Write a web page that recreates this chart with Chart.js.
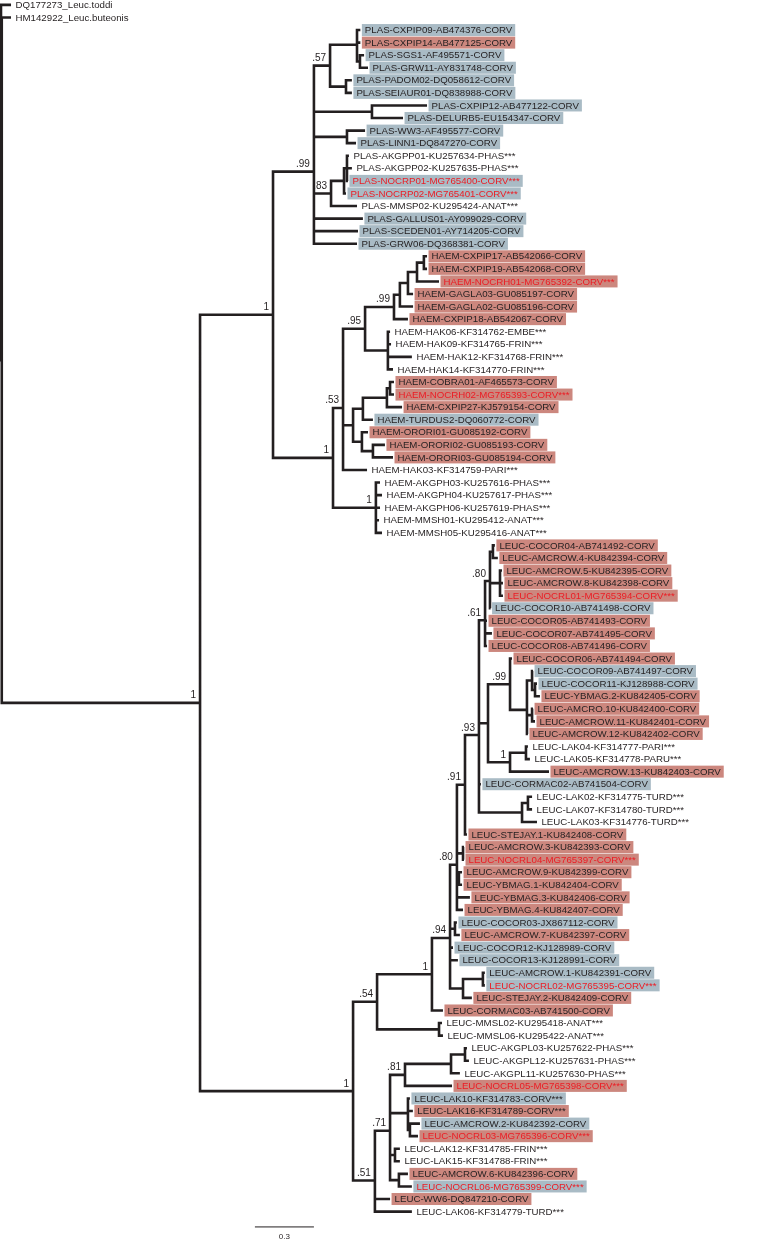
<!DOCTYPE html>
<html lang="en">
<head>
  <meta charset="UTF-8" />
  <title>Haemosporidian cytb tree</title>
  <script src="https://cdn.jsdelivr.net/npm/chart.js"></script>
  <style>
    html, body { margin: 0; padding: 0; background: #fff; overflow: hidden; }
    #wrap { position: relative; width: 778px; height: 1241px; }
  </style>
</head>
<body>
  <div id="wrap"><canvas id="chart"></canvas></div>

  <script>
    // tips, top to bottom (y = row index)
    const leafNames = [
      'DQ177273_Leuc.toddi', 'HM142922_Leuc.buteonis',
      'PLAS-CXPIP09-AB474376-CORV', 'PLAS-CXPIP14-AB477125-CORV', 'PLAS-SGS1-AF495571-CORV', 'PLAS-GRW11-AY831748-CORV',
      'PLAS-PADOM02-DQ058612-CORV', 'PLAS-SEIAUR01-DQ838988-CORV', 'PLAS-CXPIP12-AB477122-CORV', 'PLAS-DELURB5-EU154347-CORV',
      'PLAS-WW3-AF495577-CORV', 'PLAS-LINN1-DQ847270-CORV', 'PLAS-AKGPP01-KU257634-PHAS***', 'PLAS-AKGPP02-KU257635-PHAS***',
      'PLAS-NOCRP01-MG765400-CORV***', 'PLAS-NOCRP02-MG765401-CORV***', 'PLAS-MMSP02-KU295424-ANAT***',
      'PLAS-GALLUS01-AY099029-CORV', 'PLAS-SCEDEN01-AY714205-CORV', 'PLAS-GRW06-DQ368381-CORV',
      'HAEM-CXPIP17-AB542066-CORV', 'HAEM-CXPIP19-AB542068-CORV', 'HAEM-NOCRH01-MG765392-CORV***', 'HAEM-GAGLA03-GU085197-CORV',
      'HAEM-GAGLA02-GU085196-CORV', 'HAEM-CXPIP18-AB542067-CORV', 'HAEM-HAK06-KF314762-EMBE***', 'HAEM-HAK09-KF314765-FRIN***',
      'HAEM-HAK12-KF314768-FRIN***', 'HAEM-HAK14-KF314770-FRIN***', 'HAEM-COBRA01-AF465573-CORV', 'HAEM-NOCRH02-MG765393-CORV***',
      'HAEM-CXPIP27-KJ579154-CORV', 'HAEM-TURDUS2-DQ060772-CORV', 'HAEM-ORORI01-GU085192-CORV', 'HAEM-ORORI02-GU085193-CORV',
      'HAEM-ORORI03-GU085194-CORV', 'HAEM-HAK03-KF314759-PARI***', 'HAEM-AKGPH03-KU257616-PHAS***', 'HAEM-AKGPH04-KU257617-PHAS***',
      'HAEM-AKGPH06-KU257619-PHAS***', 'HAEM-MMSH01-KU295412-ANAT***', 'HAEM-MMSH05-KU295416-ANAT***',
      'LEUC-COCOR04-AB741492-CORV', 'LEUC-AMCROW.4-KU842394-CORV', 'LEUC-AMCROW.5-KU842395-CORV', 'LEUC-AMCROW.8-KU842398-CORV',
      'LEUC-NOCRL01-MG765394-CORV***', 'LEUC-COCOR10-AB741498-CORV', 'LEUC-COCOR05-AB741493-CORV', 'LEUC-COCOR07-AB741495-CORV',
      'LEUC-COCOR08-AB741496-CORV', 'LEUC-COCOR06-AB741494-CORV', 'LEUC-COCOR09-AB741497-CORV', 'LEUC-COCOR11-KJ128988-CORV',
      'LEUC-YBMAG.2-KU842405-CORV', 'LEUC-AMCRO.10-KU842400-CORV', 'LEUC-AMCROW.11-KU842401-CORV', 'LEUC-AMCROW.12-KU842402-CORV',
      'LEUC-LAK04-KF314777-PARI***', 'LEUC-LAK05-KF314778-PARU***', 'LEUC-AMCROW.13-KU842403-CORV', 'LEUC-CORMAC02-AB741504-CORV',
      'LEUC-LAK02-KF314775-TURD***', 'LEUC-LAK07-KF314780-TURD***', 'LEUC-LAK03-KF314776-TURD***', 'LEUC-STEJAY.1-KU842408-CORV',
      'LEUC-AMCROW.3-KU842393-CORV', 'LEUC-NOCRL04-MG765397-CORV***', 'LEUC-AMCROW.9-KU842399-CORV', 'LEUC-YBMAG.1-KU842404-CORV',
      'LEUC-YBMAG.3-KU842406-CORV', 'LEUC-YBMAG.4-KU842407-CORV', 'LEUC-COCOR03-JX867112-CORV', 'LEUC-AMCROW.7-KU842397-CORV',
      'LEUC-COCOR12-KJ128989-CORV', 'LEUC-COCOR13-KJ128991-CORV', 'LEUC-AMCROW.1-KU842391-CORV', 'LEUC-NOCRL02-MG765395-CORV***',
      'LEUC-STEJAY.2-KU842409-CORV', 'LEUC-CORMAC03-AB741500-CORV', 'LEUC-MMSL02-KU295418-ANAT***', 'LEUC-MMSL06-KU295422-ANAT***',
      'LEUC-AKGPL03-KU257622-PHAS***', 'LEUC-AKGPL12-KU257631-PHAS***', 'LEUC-AKGPL11-KU257630-PHAS***', 'LEUC-NOCRL05-MG765398-CORV***',
      'LEUC-LAK10-KF314783-CORV***', 'LEUC-LAK16-KF314789-CORV***', 'LEUC-AMCROW.2-KU842392-CORV', 'LEUC-NOCRL03-MG765396-CORV***',
      'LEUC-LAK12-KF314785-FRIN***', 'LEUC-LAK15-KF314788-FRIN***', 'LEUC-AMCROW.6-KU842396-CORV', 'LEUC-NOCRL06-MG765399-CORV***',
      'LEUC-WW6-DQ847210-CORV', 'LEUC-LAK06-KF314779-TURD***'
    ];

    // distance of each tip from the root (substitutions/site)
    const leafDepth = [
      0.051, 0.051,
      1.827, 1.827, 1.846, 1.866, 1.784, 1.784, 2.166, 2.044, 1.851, 1.805, 1.769, 1.784, 1.764, 1.754, 1.810, 1.840, 1.815, 1.810,
      2.166, 2.166, 2.227, 2.095, 2.095, 2.069, 1.978, 1.983, 2.089, 1.993, 1.998, 1.998, 2.039, 1.891, 1.866, 1.952, 1.993, 1.861,
      1.927, 1.937, 1.927, 1.922, 1.937,
      2.511, 2.526, 2.547, 2.552, 2.552, 2.489, 2.471, 2.496, 2.471, 2.598, 2.705, 2.725, 2.740, 2.705, 2.715, 2.679, 2.679, 2.689,
      2.786, 2.440, 2.700, 2.700, 2.725, 2.369, 2.354, 2.354, 2.344, 2.344, 2.384, 2.349, 2.318, 2.333, 2.298, 2.323, 2.460, 2.460,
      2.394, 2.247, 2.242, 2.247, 2.369, 2.379, 2.333, 2.293, 2.079, 2.094, 2.130, 2.120, 2.028, 2.028, 2.069, 2.089, 1.978, 2.089
    ];

    // r = red box, g = grey box, R / G = same box with red text
    const leafMark = [
      '', '',
      'g', 'r', 'g', 'g', 'g', 'g', 'g', 'g', 'g', 'g', '', '', 'G', 'G', '', 'g', 'g', 'g',
      'r', 'r', 'R', 'r', 'r', 'r', '', '', '', '', 'r', 'R', 'r', 'g', 'r', 'r', 'r', '', '', '', '', '', '',
      'r', 'r', 'r', 'r', 'R', 'g', 'r', 'r', 'r', 'r', 'g', 'g', 'r', 'r', 'r', 'r', '', '', 'r', 'g', '', '', '',
      'r', 'r', 'R', 'r', 'r', 'r', 'r', 'g', 'r', 'g', 'g', 'g', 'G', 'r', 'r', '', '', '', '', '', 'R',
      'g', 'r', 'g', 'R', '', '', 'r', 'G', 'r', ''
    ];

    // internal nodes: id, depth, children (numbers = tips), posterior support
    const nodeIds = [
      'root', 'N1', 'IN', 'PH', 'PL', 'P57', 'PC', 'PD', 'PAD', 'P12', 'PWW', 'P83', 'PS', 'PS2',
      'H0', 'H53', 'H95', 'H99', 'Hn4', 'Hn3', 'Hn2', 'Hn1', 'HK', 'HM', 'HM1', 'HM3', 'HM4', 'HM2', 'HM5', 'HAG',
      'L0', 'L54', 'L1c', 'LMM', 'L94', 'L80b', 'L91', 'L93', 'L61', 'L80a', 'LCA', 'LAN', 'L488', 'L99', 'L527',
      'LA', 'LA2', 'LB', 'L1b', 'L45', 'LTU', 'L27', 'LA3', 'LA9', 'LC7', 'L463', 'LN2',
      'L51', 'L71', 'L81', 'LKG', 'LK2', 'LG', 'LN3', 'L1215', 'LN6'
    ];
    const nodeDepth = [
      0, 0.004, 1.012, 1.383, 1.591, 1.673, 1.810, 1.825, 1.754, 1.886, 1.759, 1.678, 1.744, 1.759,
      1.688, 1.739, 1.851, 1.998, 2.028, 2.069, 2.115, 2.150, 1.967, 1.790, 1.840, 1.962, 1.978, 1.835, 1.891, 1.906,
      1.790, 1.912, 2.191, 2.227, 2.283, 2.318, 2.359, 2.430, 2.461, 2.486, 2.501, 2.537, 2.476, 2.588, 2.674,
      2.700, 2.715, 2.700, 2.588, 2.669, 2.649, 2.679, 2.349, 2.328, 2.308, 2.349, 2.450,
      1.901, 1.978, 2.054, 2.288, 2.359, 2.069, 2.079, 2.003, 2.023
    ];
    const nodeKids = [
      [0, 'N1'], [1, 'IN'], ['PH', 'L0'], ['PL', 'H0'],
      ['P57', 'P12', 'PWW', 'P83', 17, 18, 19], ['PC', 'PAD'], [2, 3, 'PD'], [4, 5], [6, 7], [8, 9], [10, 11],
      ['PS', 16], ['PS2', 15], [12, 13, 14],
      ['H53', 'HAG'], ['H95', 'HM', 37], ['H99', 'HK'], ['Hn4', 25], ['Hn3', 24], ['Hn2', 23], ['Hn1', 22], [20, 21],
      [26, 27, 28, 29], ['HM1', 'HM2'], ['HM3', 33], ['HM4', 32], [30, 31], [34, 'HM5'], [35, 36], [38, 39, 40, 41, 42],
      ['L54', 'L51'], ['L1c', 'LMM'], ['L94', 80], [81, 82], ['L80b', 'LC7', 75, 76, 'L463'],
      ['L91', 'LA3', 'LA9', 71, 72], ['L93', 66], ['L61', 'L488', 62, 'LTU'], ['L80a', 49, 50, 51], ['LCA', 'LAN', 48],
      [43, 44], [45, 46, 47], ['L99', 'L1b'], [52, 'L527'], ['LA', 'LB', 58],
      [53, 'LA2'], [54, 55], [56, 57], ['L45', 61], [59, 60], ['L27', 65], [63, 64], [67, 68], [69, 70], [73, 74],
      ['LN2', 79], [77, 78],
      ['L71', 95, 96], ['L81', 'LG', 'L1215', 'LN6'], ['LKG', 86], ['LK2', 85], [83, 84], [87, 88, 'LN3'], [89, 90],
      [91, 92], [93, 94]
    ];
    const nodeSupport = [
      '', '', '1', '1', '.99', '.57', '', '', '', '', '', '.83', '', '',
      '1', '.53', '.95', '.99', '', '', '', '', '', '', '', '', '', '', '', '1',
      '1', '.54', '1', '', '.94', '.80', '.91', '.93', '.61', '.80', '', '', '', '.99', '',
      '', '', '', '1', '', '', '', '', '', '', '', '',
      '.51', '.71', '.81', '', '', '', '', '', ''
    ];

    const scaleBar = [1.291, 1.591];
    const scaleBarLabel = '0.3';

    const RED_BOX = '#cc877e';
    const GREY_BOX = '#a9bbc5';
    const RED_TEXT = '#ec1c24';
    const INK = '#231f20';
    const FONT = '"Liberation Sans", Arial, sans-serif';

    const nodeIndex = {};
    nodeIds.forEach((id, i) => { nodeIndex[id] = i; });

    const yCache = {};
    function nodeY(i) {
      if (yCache[i] === undefined) {
        const ys = nodeKids[i].map(kidY);
        yCache[i] = ys.reduce((a, b) => a + b, 0) / ys.length;
      }
      return yCache[i];
    }
    function kidY(c) { return typeof c === 'number' ? c : nodeY(nodeIndex[c]); }
    function kidX(c) { return typeof c === 'number' ? leafDepth[c] : nodeDepth[nodeIndex[c]]; }

    // elbow branches, broken with NaN points
    const branchPts = [];
    nodeIds.forEach((id, i) => {
      const x = nodeDepth[i];
      const y = nodeY(i);
      nodeKids[i].forEach(c => {
        const cy = kidY(c);
        branchPts.push({ x: x, y: y }, { x: x, y: cy }, { x: kidX(c), y: cy }, { x: NaN, y: NaN });
      });
    });

    const scaleRow = 97.22;

    const treeText = {
      id: 'treeText',
      beforeDatasetsDraw(chart) {
        const { ctx, scales: { x, y } } = chart;
        ctx.save();
        ctx.font = '9.7px ' + FONT;
        leafNames.forEach((name, k) => {
          const m = leafMark[k];
          if (!m) return;
          const px = x.getPixelForValue(leafDepth[k]);
          const py = y.getPixelForValue(k);
          const w = ctx.measureText(name).width;
          ctx.fillStyle = m.toLowerCase() === 'r' ? RED_BOX : GREY_BOX;
          ctx.fillRect(px + 1.5, py - 6, w + 6, 12);
        });
        ctx.restore();
      },
      afterDatasetsDraw(chart) {
        const { ctx, scales: { x, y } } = chart;
        ctx.save();
        ctx.font = '9.7px ' + FONT;
        ctx.textBaseline = 'middle';
        ctx.textAlign = 'left';
        leafNames.forEach((name, k) => {
          const m = leafMark[k];
          ctx.fillStyle = (m === 'R' || m === 'G') ? RED_TEXT : INK;
          ctx.fillText(name, x.getPixelForValue(leafDepth[k]) + 4.5, y.getPixelForValue(k) + 0.5);
        });

        ctx.font = '10px ' + FONT;
        ctx.fillStyle = INK;
        ctx.textAlign = 'right';
        ctx.textBaseline = 'alphabetic';
        nodeIds.forEach((id, i) => {
          if (!nodeSupport[i]) return;
          ctx.fillText(nodeSupport[i], x.getPixelForValue(nodeDepth[i]) - 4, y.getPixelForValue(nodeY(i)) - 4.5);
        });

        ctx.font = '8px ' + FONT;
        ctx.textAlign = 'center';
        ctx.textBaseline = 'middle';
        ctx.fillText(scaleBarLabel, x.getPixelForValue((scaleBar[0] + scaleBar[1]) / 2), y.getPixelForValue(scaleRow + 0.8));
        ctx.restore();
      }
    };

    new Chart(document.getElementById('chart'), {
      type: 'scatter',
      data: {
        datasets: [
          {
            data: branchPts,
            showLine: true,
            spanGaps: false,
            borderColor: INK,
            borderWidth: 2.6,
            borderJoinStyle: 'miter',
            borderCapStyle: 'butt',
            pointRadius: 0,
            pointHoverRadius: 0
          },
          {
            data: [{ x: scaleBar[0], y: scaleRow }, { x: scaleBar[1], y: scaleRow }],
            showLine: true,
            borderColor: INK,
            borderWidth: 1,
            pointRadius: 0,
            pointHoverRadius: 0
          }
        ]
      },
      options: {
        responsive: true,
        maintainAspectRatio: false,
        animation: false,
        events: [],
        layout: { padding: 0 },
        plugins: { legend: { display: false }, tooltip: { enabled: false } },
        scales: {
          x: { type: 'linear', display: false, min: -0.005, max: 3.9503 },
          y: { type: 'linear', display: false, min: -0.39, max: 98.34, reverse: true }
        }
      },
      plugins: [treeText]
    });
  </script>
</body>
</html>
